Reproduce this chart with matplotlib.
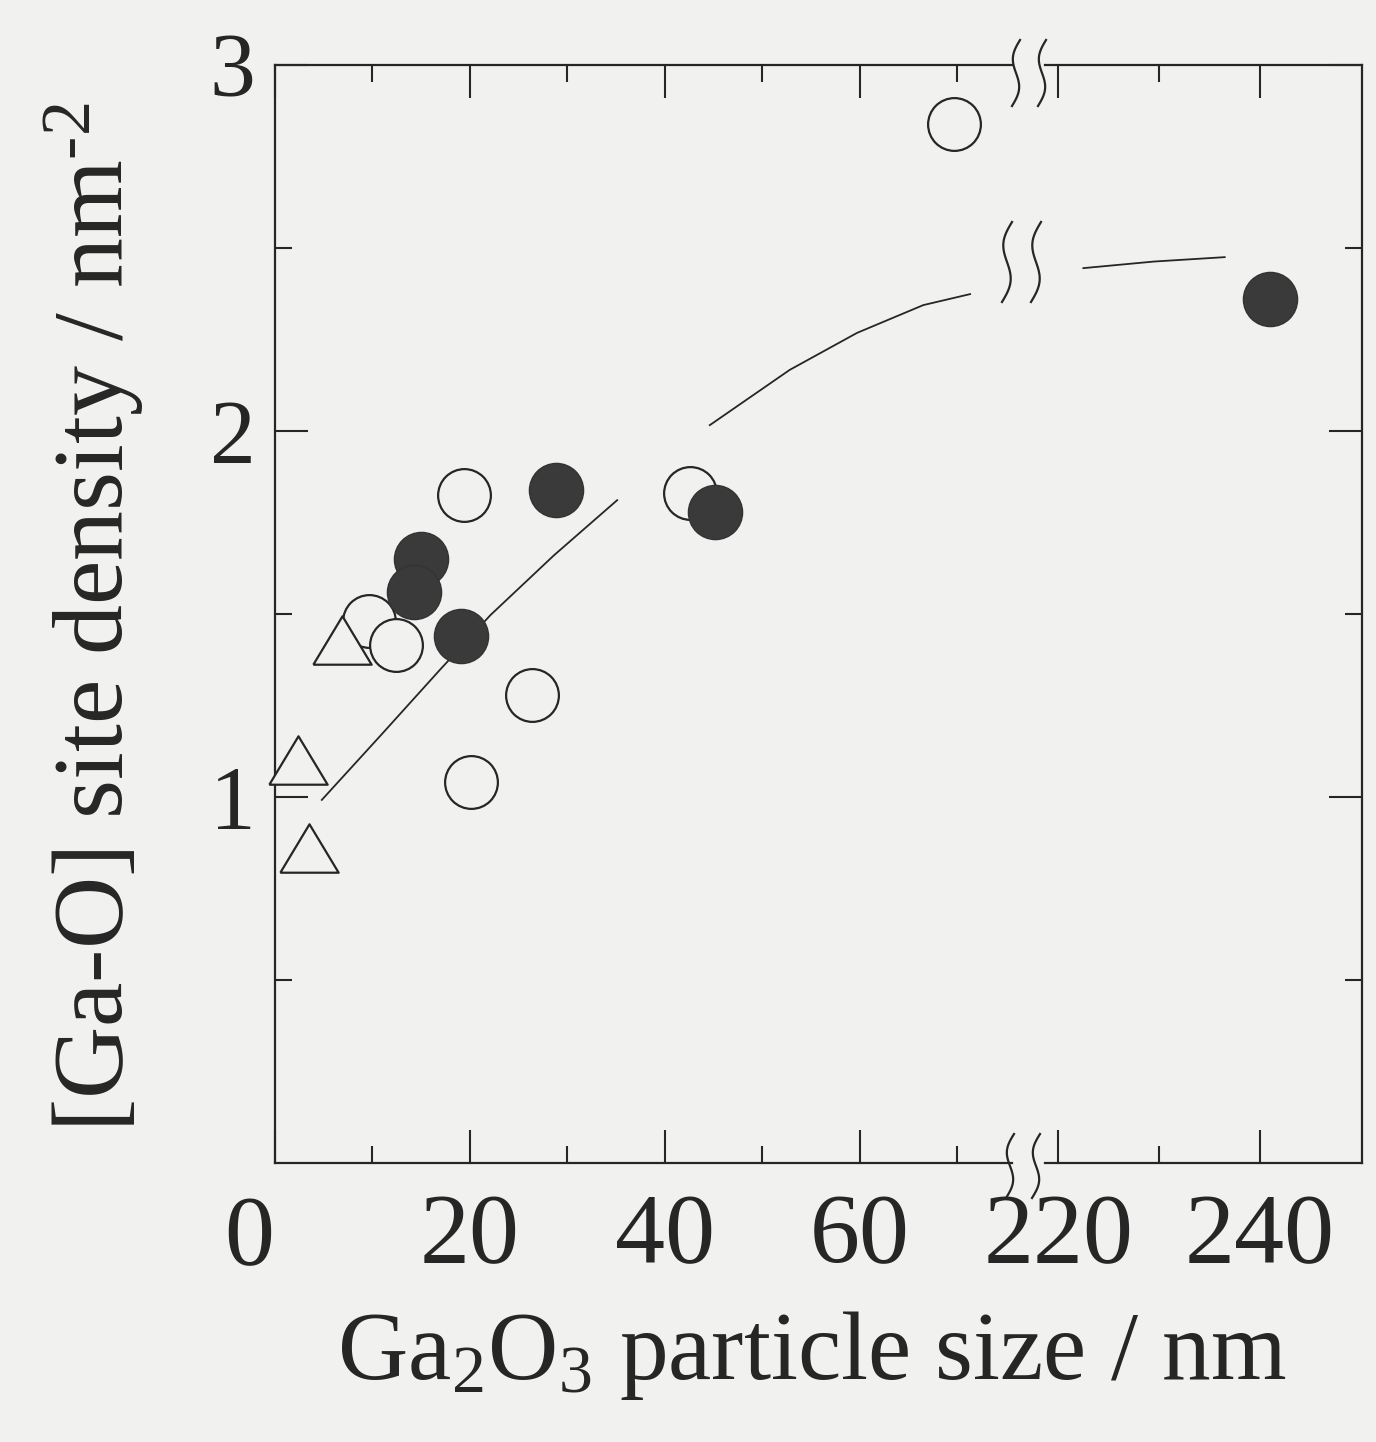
import numpy as np
import matplotlib
matplotlib.use('Agg')
from matplotlib import pyplot as plt
from matplotlib.lines import Line2D

plt.rcParams['font.family'] = ['Liberation Serif', 'DejaVu Serif']
plt.rcParams['mathtext.fontset'] = 'custom'
plt.rcParams['mathtext.rm'] = 'Liberation Serif'
plt.rcParams['mathtext.it'] = 'Liberation Serif:italic'

# data
open_x = [69.6, 19.4, 42.6, 9.6, 12.4, 26.4, 20.1]
open_y = [2.84, 1.825, 1.83, 1.48, 1.415, 1.28, 1.04]
filled_x = [28.8, 45.1, 15.0, 14.3, 19.1, 241.0]
filled_y = [1.84, 1.78, 1.65, 1.56, 1.44, 2.36]
tri_x = [6.9, 2.4, 3.5]
tri_y = [1.43, 1.10, 0.86]

# guide curve, drawn in pieces as in the original
curve1_x = [4.8, 10.9, 16.9, 22.1, 28.6, 35.1]
curve1_y = [0.992, 1.17, 1.347, 1.497, 1.66, 1.811]
curve2_x = [44.6, 52.8, 59.7, 66.5, 71.3]
curve2_y = [2.016, 2.167, 2.268, 2.344, 2.374]
curve3_x = [222.5, 229.5, 236.5]
curve3_y = [2.445, 2.463, 2.475]

xt_left = [0, 20, 40, 60]
xt_left_lab = ['', '20', '40', '60']
xt_right = [220, 240]
yt = [1, 2, 3]

bg = '#f1f1ef'
ink = '#262626'
W, H = 1376, 1442

fig = plt.figure(figsize=(13.76, 14.42), dpi=100, facecolor=bg)
ax1 = fig.add_axes([275 / W, 1 - 1163 / H, 737 / W, 1098 / H], facecolor=bg)
ax2 = fig.add_axes([1045 / W, 1 - 1163 / H, 317 / W, 1098 / H], facecolor=bg)

tri = [(-1, -0.83), (1, -0.83), (0, 0.83), (-1, -0.83)]

for ax in (ax1, ax2):
    ax.plot(open_x, open_y, 'o', ms=38, mfc=bg, mec=ink, mew=1.6, clip_on=False, zorder=3)
    ax.plot(filled_x, filled_y, 'o', ms=39, mfc='#3a3a3a', mec='#333333', mew=1, clip_on=False, zorder=4)
    ax.plot(tri_x, tri_y, ls='none', marker=tri, ms=42, mfc=bg, mec=ink, mew=1.6, clip_on=False, zorder=3)
    ax.set_ylim(0, 3)
    for s in ax.spines.values():
        s.set_linewidth(1.6)
        s.set_color(ink)
    ax.tick_params(which='both', direction='in', width=1.5, color=ink, labelcolor=ink)
    ax.tick_params(axis='x', labelsize=72)
    ax.tick_params(axis='y', labelsize=66)
    ax.tick_params(which='major', length=24)
    ax.tick_params(which='minor', length=12)
    ax.set_yticks(yt)
    ax.set_yticks([0.5, 1.5, 2.5], minor=True)

ax1.plot(curve1_x, curve1_y, color=ink, lw=1.3, zorder=2)
ax1.plot(curve2_x, curve2_y, color=ink, lw=1.3, zorder=2)
ax2.plot(curve3_x, curve3_y, color=ink, lw=1.3, zorder=2)

ax1.set_xlim(0, 75.6)
ax1.set_xticks(xt_left)
ax1.set_xticklabels(xt_left_lab)
ax1.set_xticks([10, 30, 50, 70], minor=True)
ax1.spines['right'].set_visible(False)
ax1.tick_params(which='both', top=True, bottom=True, left=True, right=False)
ax1.tick_params(axis='x', pad=22)
ax1.tick_params(axis='y', pad=14)
ax1.text(-2.6, -0.07, '0', transform=ax1.get_xaxis_transform(), ha='center', va='center',
         fontsize=72, color=ink)

ax2.set_xlim(218.7, 250.1)
ax2.set_xticks(xt_right)
ax2.set_xticks([230], minor=True)
ax2.spines['left'].set_visible(False)
ax2.tick_params(which='both', top=True, bottom=True, left=False, right=True, labelleft=False)
ax2.tick_params(axis='x', pad=22)

# break marks (pixel positions of the picture)
def wave(xc, yc, h, a, slant):
    t = np.linspace(0, 1, 60)
    x = xc + slant * (0.5 - t) - a * np.sin(2 * np.pi * t)
    y = yc - h / 2 + h * t
    fig.add_artist(Line2D(x / W, 1 - y / H, color=ink, lw=1.6, transform=fig.transFigure))

for xc in (1016, 1042):
    wave(xc, 73, 66, 5, 8)
    wave(xc - 6, 1166, 64, 5, 8)
for xc in (1007, 1036):
    wave(xc, 262, 80, 6, 10)

fig.text(812 / W, 1 - 1356 / H, 'Ga$_2$O$_3$ particle size / nm', ha='center', va='center',
         fontsize=70, color=ink)
fig.text(94 / W, 1 - 617 / H, r'[Ga-O] site density / nm$^{\text{-2}}$', ha='center', va='center',
         rotation=90, fontsize=72, color=ink)

fig.savefig('out.png', dpi=100, facecolor=bg)
